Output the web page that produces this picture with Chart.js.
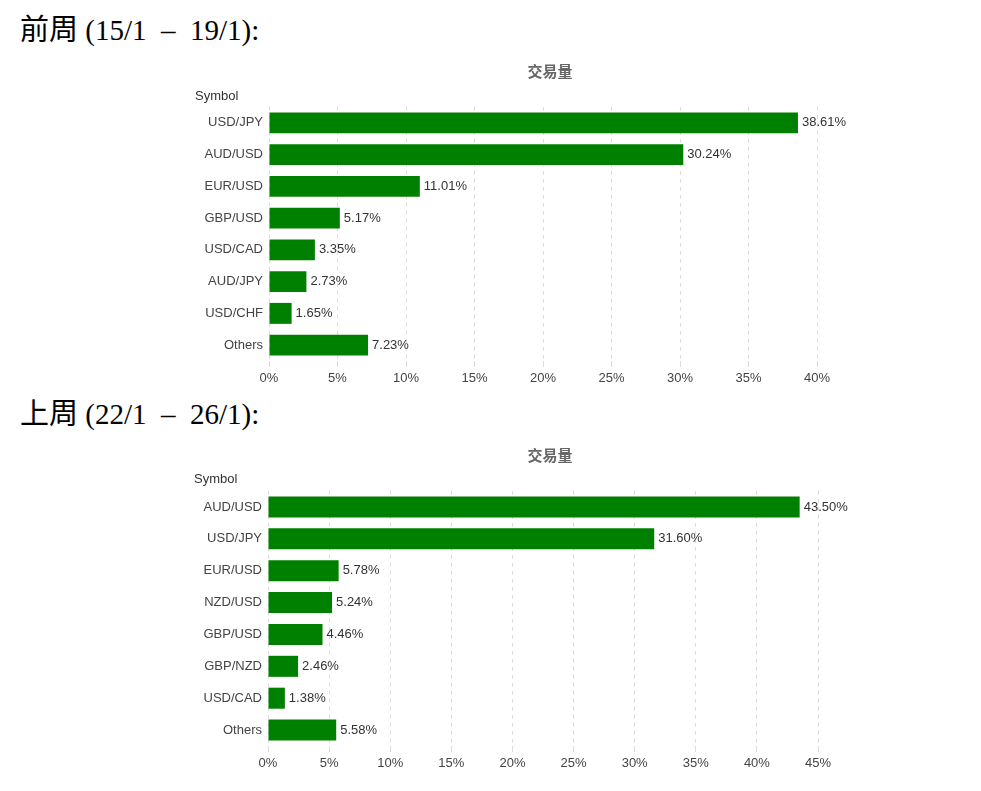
<!DOCTYPE html>
<html>
<head>
<meta charset="utf-8">
<script src="https://cdn.jsdelivr.net/npm/chart.js@4"></script>
<style>
  html, body { margin: 0; padding: 0; background: #fff; width: 981px; height: 791px; overflow: hidden; }
  .heading { position: absolute; left: 20px; font-family: "Liberation Serif", "Noto Sans CJK TC", serif; font-size: 29px; color: #000; white-space: pre; line-height: 1; }
  .box { position: absolute; left: 180px; width: 670px; height: 335px; }
</style>
</head>
<body>
<div class="heading" style="top:16px;">前周 (15/1  –  19/1):</div>
<div class="box" style="top:55px;"><canvas id="c1" width="670" height="335"></canvas></div>
<div class="heading" style="top:400px;">上周 (22/1  –  26/1):</div>
<div class="box" style="top:440px;"><canvas id="c2" width="670" height="335"></canvas></div>
<script>
// ---- data ----
const chartTitle = "交易量";
const axisLabel = "Symbol";
const week1Symbols = ["USD/JPY", "AUD/USD", "EUR/USD", "GBP/USD", "USD/CAD", "AUD/JPY", "USD/CHF", "Others"];
const week1Values = [38.61, 30.24, 11.01, 5.17, 3.35, 2.73, 1.65, 7.23];
const week1Max = 40;
const week2Symbols = ["AUD/USD", "USD/JPY", "EUR/USD", "NZD/USD", "GBP/USD", "GBP/NZD", "USD/CAD", "Others"];
const week2Values = [43.50, 31.60, 5.78, 5.24, 4.46, 2.46, 1.38, 5.58];
const week2Max = 45;
const tickStep = 5;

const FONT = '"Liberation Sans", Arial, sans-serif';

const decor = {
  id: 'decor',
  afterDatasetsDraw(chart, args, opts) {
    const ctx = chart.ctx;
    ctx.save();
    // value labels
    ctx.font = '13px ' + FONT;
    ctx.fillStyle = '#333';
    ctx.textAlign = 'left';
    ctx.textBaseline = 'middle';
    const meta = chart.getDatasetMeta(0);
    const vals = chart.data.datasets[0].data;
    meta.data.forEach((bar, i) => {
      ctx.fillText(vals[i].toFixed(2) + '%', bar.x + 4, bar.y);
    });
    // chart title
    ctx.font = 'bold 15px "Noto Sans CJK TC", ' + FONT;
    ctx.fillStyle = '#666';
    ctx.textAlign = 'center';
    ctx.fillText(opts.title, opts.titleX, opts.titleY);
    // axis title
    ctx.font = '13px ' + FONT;
    ctx.fillStyle = '#333';
    ctx.textAlign = 'left';
    ctx.fillText(opts.axis, opts.axisX, opts.axisY);
    ctx.restore();
  }
};

function makeChart(id, labels, values, max, yWidth, padTop, padRight, xHeight, titleY, axisX, axisY) {
  return new Chart(document.getElementById(id), {
    type: 'bar',
    data: {
      labels: labels,
      datasets: [{ data: values, backgroundColor: '#008000', borderWidth: 0, barPercentage: 0.66, categoryPercentage: 1 }]
    },
    options: {
      indexAxis: 'y',
      responsive: false,
      animation: false,
      layout: { padding: { top: padTop, right: padRight, left: 0, bottom: 0 } },
      plugins: {
        legend: { display: false },
        title: { display: false },
        tooltip: { enabled: false },
        decor: { title: chartTitle, titleX: 370, titleY: titleY, axis: axisLabel, axisX: axisX, axisY: axisY }
      },
      scales: {
        x: {
          min: 0, max: max,
          afterFit(s) { s.height = xHeight; },
          grid: { color: '#dcdcdc', lineWidth: 1, tickLength: 6, tickColor: '#dcdcdc' },
          border: { display: false, dash: [4, 4] },
          ticks: { stepSize: tickStep, padding: 4, color: '#444', font: { family: FONT, size: 13 }, callback: v => v + '%' }
        },
        y: {
          afterFit(s) { s.width = yWidth; },
          grid: { display: false, drawTicks: false },
          border: { display: false },
          ticks: { padding: 6, color: '#444', font: { family: FONT, size: 13 } }
        }
      }
    },
    plugins: [decor]
  });
}

makeChart('c1', week1Symbols, week1Values, week1Max, 89, 52, 33, 29, 16, 15, 41);
makeChart('c2', week2Symbols, week2Values, week2Max, 88, 51, 32, 29, 15, 14, 39);
</script>
</body>
</html>
